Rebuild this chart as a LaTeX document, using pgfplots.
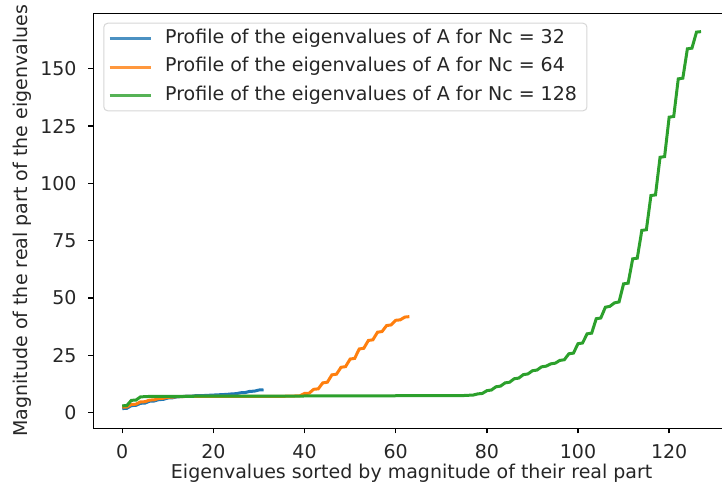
\documentclass[border=0pt]{standalone}
\usepackage{fontspec}
\setmainfont{DejaVu Sans}
\usepackage{pgfplots}
\usepackage{pgfplotstable}
\pgfplotsset{compat=1.18}

\definecolor{tabblue}{HTML}{1F77B4}
\definecolor{taborange}{HTML}{FF7F0E}
\definecolor{tabgreen}{HTML}{2CA02C}

% Real parts of the eigenvalues, sorted by magnitude (conjugate pairs share a value)
\pgfplotstableread{
i v
0 1.8
1 1.9
2 3.1
3 3.2
4 4.1
5 4.2
6 5.0
7 5.1
8 5.7
9 5.8
10 6.4
11 6.5
12 6.9
13 7.0
14 7.2
15 7.2
16 7.4
17 7.4
18 7.5
19 7.6
20 7.7
21 7.8
22 7.9
23 8.0
24 8.2
25 8.3
26 8.7
27 8.8
28 9.3
29 9.4
30 9.9
31 10.0
}\eigA

\pgfplotstableread{
i v
0 2.4
1 2.5
2 3.6
3 3.7
4 4.7
5 4.8
6 5.5
7 5.6
8 6.2
9 6.3
10 6.7
11 6.8
12 7.0
13 7.0
14 7.1
15 7.1
16 7.1
17 7.1
18 7.1
19 7.1
20 7.1
21 7.1
22 7.1
23 7.1
24 7.1
25 7.1
26 7.1
27 7.1
28 7.1
29 7.1
30 7.1
31 7.1
32 7.1
33 7.1
34 7.1
35 7.1
36 7.2
37 7.2
38 7.3
39 7.4
40 8.4
41 8.5
42 10.2
43 10.4
44 13.0
45 13.3
46 16.5
47 16.8
48 19.8
49 20.1
50 23.4
51 23.7
52 27.8
53 28.1
54 31.5
55 31.8
56 35.1
57 35.4
58 38.0
59 38.3
60 40.3
61 40.5
62 41.7
63 41.9
}\eigB

\pgfplotstableread{
i v
0 3.0
1 3.1
2 5.4
3 5.5
4 6.9
5 7.0
6 7.1
7 7.1
8 7.1
9 7.1
10 7.1
11 7.1
12 7.1
13 7.1
14 7.1
15 7.1
16 7.2
17 7.2
18 7.2
19 7.2
20 7.2
21 7.2
22 7.2
23 7.2
24 7.2
25 7.2
26 7.2
27 7.2
28 7.2
29 7.2
30 7.2
31 7.2
32 7.2
33 7.2
34 7.2
35 7.2
36 7.2
37 7.2
38 7.2
39 7.2
40 7.3
41 7.3
42 7.3
43 7.3
44 7.3
45 7.3
46 7.3
47 7.3
48 7.3
49 7.3
50 7.3
51 7.3
52 7.3
53 7.3
54 7.3
55 7.3
56 7.3
57 7.3
58 7.3
59 7.3
60 7.4
61 7.4
62 7.4
63 7.4
64 7.4
65 7.4
66 7.4
67 7.4
68 7.4
69 7.4
70 7.4
71 7.4
72 7.5
73 7.5
74 7.5
75 7.5
76 7.6
77 7.7
78 8.2
79 8.4
80 9.6
81 9.9
82 11.3
83 11.6
84 13.0
85 13.3
86 14.8
87 15.1
88 16.6
89 16.9
90 18.3
91 18.6
92 20.0
93 20.3
94 21.3
95 21.6
96 22.8
97 23.1
98 25.7
99 26.0
100 30.1
101 30.4
102 34.4
103 34.7
104 41.0
105 41.3
106 46.0
107 46.4
108 47.9
109 48.3
110 56.2
111 56.5
112 67.1
113 67.4
114 79.5
115 79.8
116 94.7
117 95.0
118 111.4
119 111.7
120 128.9
121 129.2
122 145.6
123 145.9
124 158.7
125 159.0
126 166.0
127 166.2
}\eigC

\begin{document}
\fontsize{9.5}{11.4}\selectfont
\begin{tikzpicture}
\begin{axis}[
  at={(46.65pt,31.35pt)}, anchor=south west,
  scale only axis, width=318.35pt, height=207.5pt,
  xmin=-6.35, xmax=133.35, ymin=-6.8, ymax=174.2,
  xtick={0,20,...,120}, ytick={0,25,...,150},
  tick pos=left, tick align=outside, major tick length=2.5pt,
  axis line style={line width=0.7pt},
  every tick/.style={black, line width=0.7pt},
  /pgf/number format/assume math mode=true,
  tick label style={font=\fontsize{9.5}{11.4}\selectfont, text=black!85},
  xticklabel style={yshift=-2pt},
  yticklabel style={xshift=-2.5pt},
  label style={font=\fontsize{9.5}{11.4}\selectfont, text=black!85},
  xlabel={Eigenvalues sorted by magnitude of their real part},
  ylabel={Magnitude of the real part of the eigenvalues},
  xlabel style={at={(axis description cs:0.5,-0.108)}, anchor=center},
  ylabel style={at={(axis description cs:-0.112,0.5)}, anchor=center},
  legend cell align=left,
  legend image code/.code={\draw[#1, line width=1.5pt] (0pt,0pt) -- (20.5pt,0pt);},
  legend style={
    at={(axis description cs:0.0157,0.9773)}, anchor=north west,
    draw=black!20, line width=0.5pt, rounded corners=2pt,
    fill=white, fill opacity=0.8, draw opacity=0.8, text opacity=1,
    font=\fontsize{9.5}{11.4}\selectfont, text=black!85,
    inner xsep=2.2pt, inner ysep=3pt,
    nodes={inner sep=0pt, text height=7.2pt, text depth=2.3pt},
    row sep=4.65pt, column sep=6.5pt,
  },
]
\addplot[tabblue, line width=1.5pt] table[x=i, y=v] {\eigA};
\addlegendentry{Profile of the eigenvalues of A for Nc = 32\hspace*{2.8pt}}
\addplot[taborange, line width=1.5pt] table[x=i, y=v] {\eigB};
\addlegendentry{Profile of the eigenvalues of A for Nc = 64\hspace*{2.8pt}}
\addplot[tabgreen, line width=1.5pt] table[x=i, y=v] {\eigC};
\addlegendentry{Profile of the eigenvalues of A for Nc = 128\hspace*{2.8pt}}
\end{axis}
\pgfresetboundingbox
\path[use as bounding box] (0pt,0pt) rectangle (361pt,245.5pt);
\end{tikzpicture}
\end{document}
